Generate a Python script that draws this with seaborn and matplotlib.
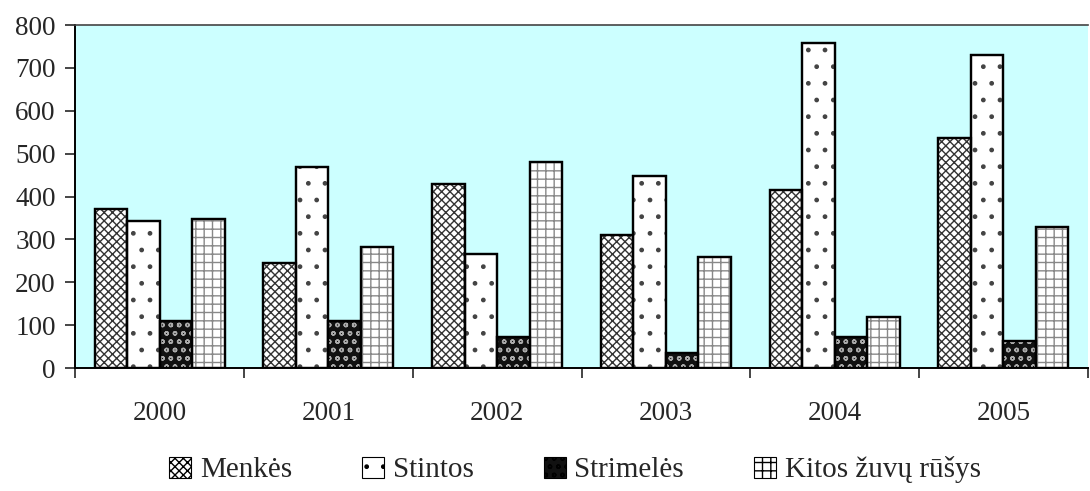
import pandas as pd
import matplotlib
matplotlib.use('Agg')
import matplotlib.pyplot as plt
import seaborn as sns
from matplotlib.patches import Rectangle, Patch

metai = ['2000', '2001', '2002', '2003', '2004', '2005']
menkes = [372, 245, 430, 310, 415, 537]
stintos = [343, 470, 265, 447, 757, 730]
strimeles = [110, 110, 72, 35, 72, 62]
kitos = [348, 282, 480, 260, 118, 330]
rusys = ['Menkės', 'Stintos', 'Strimelės', 'Kitos žuvų rūšys']

df = pd.DataFrame({'Metai': metai * 4,
                   'Kiekis': menkes + stintos + strimeles + kitos,
                   'Rūšis': [r for r in rusys for _ in metai]})

sns.set_style('white')
plt.rcParams['font.family'] = ['Liberation Serif', 'DejaVu Serif']
plt.rcParams['hatch.linewidth'] = 1.0

fig = plt.figure(figsize=(10.9, 4.91), dpi=100)
ax = fig.add_axes([0.069, 0.2505, 0.929, 0.6985])
ax.set_facecolor('#ccffff')

sns.barplot(data=df, x='Metai', y='Kiekis', hue='Rūšis', palette=['white'] * 4,
            width=0.77, edgecolor='black', linewidth=1.6, saturation=1, ax=ax,
            legend=False)

# raštai kiekvienai rūšiai
stiliai = [('white', '#333333', 'xxxx'),
           ('white', '#444444', '.'),
           ('#111111', '#aaaaaa', 'oo'),
           ('white', '#888888', '++')]
for cont, (fc, hc, h) in zip(ax.containers, stiliai):
    for p in cont:
        p.set_facecolor(fc)
        r = Rectangle(p.get_xy(), p.get_width(), p.get_height(), facecolor='none',
                      edgecolor=hc, linewidth=0, hatch=h, zorder=p.get_zorder() + 0.1)
        ax.add_patch(r)
        r2 = Rectangle(p.get_xy(), p.get_width(), p.get_height(), facecolor='none',
                       edgecolor='black', linewidth=1.6, zorder=p.get_zorder() + 0.2)
        ax.add_patch(r2)

ax.set_ylim(0, 800)
ax.set_xlim(-0.5, 5.5)
ax.set_yticks(range(0, 801, 100))
ax.set_xlabel('')
ax.set_ylabel('')
ax.tick_params(axis='y', length=7, width=1.2, direction='out', left=True,
               labelsize=19.5, pad=7)
ax.tick_params(axis='x', which='major', length=0, labelsize=19.5, pad=24)
ax.set_xticks([i - 0.5 for i in range(7)], minor=True)
ax.tick_params(axis='x', which='minor', length=7, width=1.2, direction='out', bottom=True)

for s in ['left', 'bottom']:
    ax.spines[s].set_color('black')
    ax.spines[s].set_linewidth(1.4)
ax.spines['top'].set_color('#444444')
ax.spines['top'].set_linewidth(1.2)
ax.spines['right'].set_visible(False)

handles = [Patch(facecolor=fc, edgecolor='black', hatch=h, linewidth=0.8)
           for fc, hc, h in stiliai]
fig.legend(handles, rusys, loc='center', bbox_to_anchor=(0.5275, 0.043), ncol=4,
           frameon=False, fontsize=21, handlelength=0.75, handleheight=0.75,
           handletextpad=0.3, columnspacing=2.4)

fig.savefig('out.png', dpi=100)
